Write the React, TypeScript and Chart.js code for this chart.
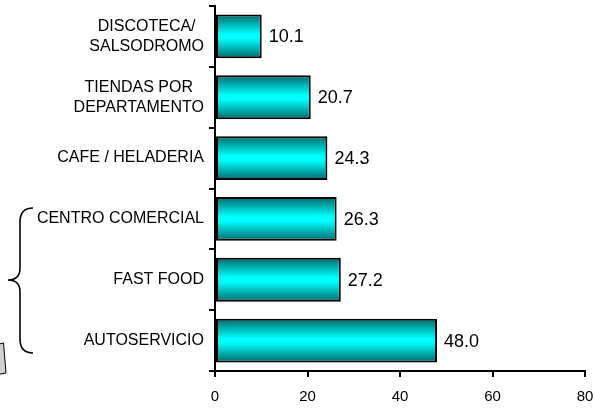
import React, { useEffect, useRef } from "react";
import { Chart, registerables } from "chart.js";

Chart.register(...registerables);

const categories: string[][] = [
  ["DISCOTECA/", "SALSODROMO"],
  ["TIENDAS POR", "DEPARTAMENTO"],
  ["CAFE / HELADERIA"],
  ["CENTRO COMERCIAL"],
  ["FAST FOOD"],
  ["AUTOSERVICIO"],
];
const values: number[] = [10.1, 20.7, 24.3, 26.3, 27.2, 48.0];
const xTicks: number[] = [0, 20, 40, 60, 80];

const FONT = "Arial, 'Liberation Sans', sans-serif";
const BAR_PCT = 0.72;

const labelPlugin = {
  id: "catLabels",
  afterDraw(chart: any) {
    const ctx = chart.ctx;
    const y = chart.scales.y;
    ctx.save();
    ctx.font = `16px ${FONT}`;
    ctx.fillStyle = "#000";
    ctx.textBaseline = "middle";
    const right = 204;
    const lh = 20;
    categories.forEach((lines, i) => {
      const cy = y.getPixelForValue(i);
      const maxW = Math.max(...lines.map((l) => ctx.measureText(l).width));
      lines.forEach((l, j) => {
        const ly = cy + (j - (lines.length - 1) / 2) * lh;
        if (lines.length === 1) {
          ctx.textAlign = "right";
          ctx.fillText(l, right, ly);
        } else {
          ctx.textAlign = "center";
          ctx.fillText(l, right - maxW / 2, ly);
        }
      });
    });
    // value labels
    ctx.font = `18px ${FONT}`;
    ctx.textAlign = "left";
    const meta = chart.getDatasetMeta(0);
    meta.data.forEach((el: any, i: number) => {
      ctx.fillText(values[i].toFixed(1), el.x + 7, el.y + 1);
    });
    // brace
    ctx.strokeStyle = "#000";
    ctx.lineWidth = 1.6;
    ctx.beginPath();
    ctx.moveTo(33, 208);
    ctx.quadraticCurveTo(20, 208, 20, 222);
    ctx.lineTo(20, 268);
    ctx.quadraticCurveTo(20, 280, 8, 280);
    ctx.quadraticCurveTo(20, 280, 20, 292);
    ctx.lineTo(20, 339);
    ctx.quadraticCurveTo(20, 353, 33, 353);
    ctx.stroke();
    // small box at bottom left
    ctx.fillStyle = "#d0d0d0";
    ctx.lineWidth = 1;
    ctx.beginPath();
    ctx.moveTo(-10, 346);
    ctx.lineTo(3.5, 343);
    ctx.lineTo(6, 373);
    ctx.lineTo(-10, 376);
    ctx.closePath();
    ctx.fill();
    ctx.stroke();
    ctx.restore();
  },
};

export default function App() {
  const ref = useRef<HTMLCanvasElement>(null);
  useEffect(() => {
    if (!ref.current) return;
    const chart = new Chart(ref.current, {
      type: "bar",
      data: {
        labels: categories.map((c) => c.join(" ")),
        datasets: [
          {
            data: values,
            borderColor: "#000",
            borderWidth: 2,
            borderSkipped: false,
            barPercentage: BAR_PCT,
            categoryPercentage: 1,
            backgroundColor: (c: any) => {
              const chart = c.chart;
              const y = chart.scales?.y;
              if (!y || c.type !== "data") return "#00ffff";
              const cy = y.getPixelForValue(c.dataIndex);
              const h = ((y.bottom - y.top) / categories.length) * BAR_PCT;
              if (!isFinite(cy) || !isFinite(h) || h <= 0) return "#00ffff";
              const g = chart.ctx.createLinearGradient(0, cy - h / 2, 0, cy + h / 2);
              g.addColorStop(0, "#006868");
              g.addColorStop(0.45, "#00ffff");
              g.addColorStop(0.55, "#00ffff");
              g.addColorStop(1, "#006868");
              return g;
            },
          },
        ],
      },
      options: {
        indexAxis: "y",
        animation: false,
        responsive: false,
        layout: { padding: { top: 6, right: 9, left: 0, bottom: 0 } },
        plugins: { legend: { display: false }, tooltip: { enabled: false } },
        scales: {
          x: {
            min: 0,
            max: 80,
            afterBuildTicks: (s: any) => {
              s.ticks = xTicks.map((v) => ({ value: v }));
            },
            afterFit: (s: any) => {
              s.height = 39;
              s.paddingRight = 0;
              s.paddingLeft = 0;
            },
            border: { color: "#000", width: 2 },
            grid: { drawOnChartArea: false, drawTicks: true, tickLength: 6, color: "#000", lineWidth: 2 },
            ticks: { color: "#000", font: { family: FONT, size: 15 }, padding: 11, maxRotation: 0 },
          },
          y: {
            afterFit: (s: any) => {
              s.width = 215;
            },
            border: { color: "#000", width: 2 },
            grid: { drawOnChartArea: false, drawTicks: true, tickLength: 6, color: "#000", lineWidth: 2, offset: true },
            ticks: { display: false },
          },
        },
      },
      plugins: [labelPlugin],
    });
    return () => chart.destroy();
  }, []);
  return (
    <div style={{ position: "fixed", left: 0, top: 0, width: 594, height: 410, background: "#fff" }}>
      <canvas ref={ref} width={594} height={410} style={{ display: "block", width: 594, height: 410 }} />
    </div>
  );
}
